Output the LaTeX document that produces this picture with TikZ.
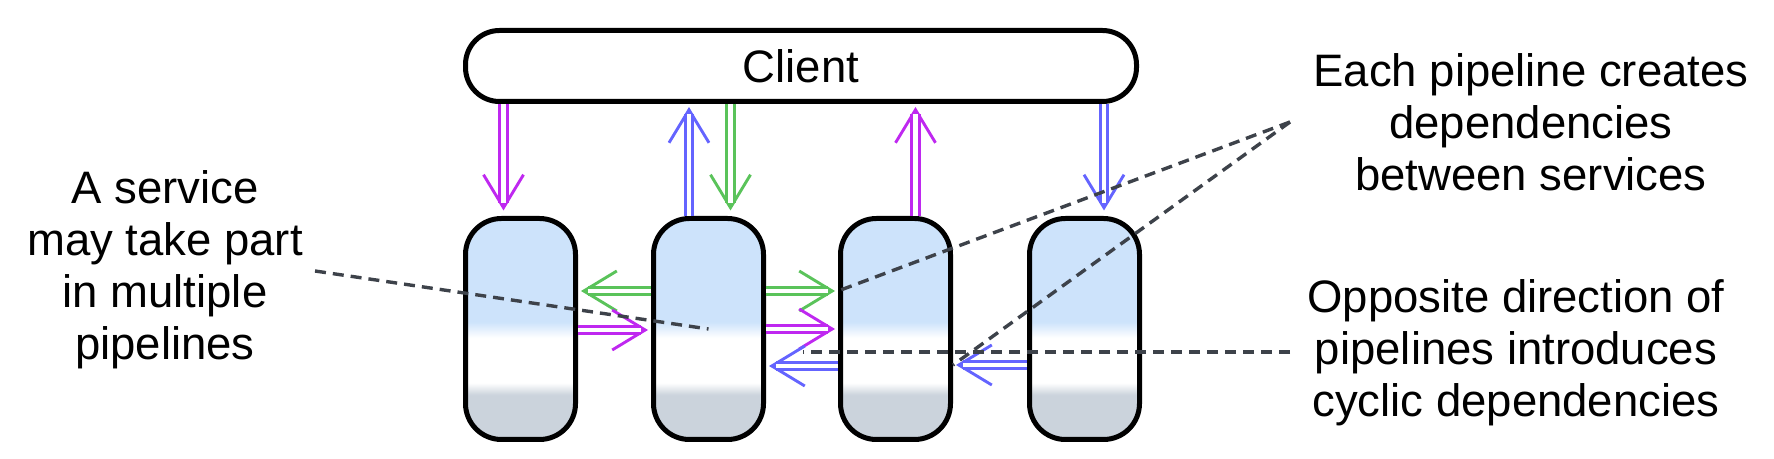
\documentclass[tikz,border=0pt]{standalone}
\usepackage{fontspec}
\setmainfont{Liberation Sans}
\usetikzlibrary{arrows.meta,calc}
\definecolor{pk}{HTML}{BF28F0}
\definecolor{bl}{HTML}{6464FF}
\definecolor{gr}{HTML}{5AC35A}
\definecolor{hintcol}{HTML}{3D424A}
\definecolor{svcblue}{HTML}{CDE3FB}
\definecolor{svcgrey}{HTML}{CBD3DC}
\pgfdeclareverticalshading{svcshade}{100bp}{color(0bp)=(svcgrey); color(35.1bp)=(svcgrey); color(37.8bp)=(white); color(48bp)=(white); color(51.6bp)=(svcblue); color(100bp)=(svcblue)}
\newcommand\pipearrow[3]{\draw[#1,arrtip] #2 -- #3; \draw[#1,arrbody] #2 -- #3;}
\tikzset{
  svc/.style={draw=black, line width=2.5pt, rounded corners=18pt, minimum width=55pt, minimum height=110.5pt, shade, shading=svcshade, inner sep=0pt},
  clientbox/.style={draw=black, line width=2.5pt, rounded corners=17pt, minimum width=335.5pt, minimum height=35.5pt, fill=white, inner sep=0pt, font=\fontsize{22.75pt}{26pt}\selectfont},
  note/.style={align=center, font=\fontsize{22.75pt}{26pt}\selectfont, inner sep=0pt},
  hint/.style={draw=hintcol, line width=1.7pt, dash pattern=on 5.5pt off 3.5pt},
  arrtip/.style={line width=1.45pt, -{Straight Barb[length=16.5pt,width=20pt]}, shorten >=1.5pt},
  arrbody/.style={line width=1.45pt, double=white, double distance=2.2pt, shorten >=5pt},
}
\begin{document}
\begin{tikzpicture}[x=0.5pt,y=-0.5pt]
\useasboundingbox (0,0) rectangle (1774,459);
% nodes
\node[clientbox] (c) at (801,66) {Client};
\node[svc] (s1) at (520.5,329) {};
\node[svc] (s2) at (708.5,329) {};
\node[svc] (s3) at (895.5,329) {};
\node[svc] (s4) at (1084.5,329) {};
% vertical arrow positions
\coordinate (a1) at ($(s1.north)+(-17,0)$);
\coordinate (a2) at ($(s2.north)+(-19.5,0)$);
\coordinate (a3) at ($(s2.north)+(22,0)$);
\coordinate (a4) at ($(s3.north)+(20,0)$);
\coordinate (a5) at ($(s4.north)+(19.5,0)$);
\pipearrow{draw=pk}{(a1 |- c.south)}{($(a1)+(0,-2.5)$)}
\pipearrow{draw=bl}{(a2)}{(a2 |- c.south)}
\pipearrow{draw=gr}{(a3 |- c.south)}{($(a3)+(0,-2.5)$)}
\pipearrow{draw=pk}{(a4)}{(a4 |- c.south)}
\pipearrow{draw=bl}{(a5 |- c.south)}{($(a5)+(0,-2.5)$)}
% horizontal arrows
\pipearrow{draw=gr}{($(s2.west)+(0,-38)$)}{($(s1.east)+(0,-38)$)}
\pipearrow{draw=pk}{($(s1.east)+(0,1)$)}{($(s2.west)+(0,1)$)}
\pipearrow{draw=gr}{($(s2.east)+(0,-38)$)}{($(s3.west)+(0,-38)$)}
\pipearrow{draw=pk}{(s2.east)}{(s3.west)}
\pipearrow{draw=bl}{($(s3.west)+(0,37)$)}{($(s2.east)+(0,37)$)}
\pipearrow{draw=bl}{($(s4.west)+(0,36)$)}{($(s3.east)+(0,36)$)}
% annotation pointers
\coordinate (n1) at (315,271);
\coordinate (n2) at (1290,122);
\coordinate (n3) at (1290,352);
\coordinate (n3e) at (803,352);
\draw[hint] (n1) -- (s2.center);
\draw[hint] (n2) -- ($(s3.west)+(0,-38)$);
\draw[hint] (n2) -- ($(s3.east)+(0,36)$);
\draw[hint] (n3) -- (n3e);
% texts
\node[note] (t1) at (165,269.7) {A service\\may take part\\in multiple\\pipelines};
\node[note] (t2) at (1531,122.5) {Each pipeline creates\\dependencies\\between services};
\node[note] (t3) at (1516,353) {Opposite direction of\\pipelines introduces\\cyclic dependencies};
\end{tikzpicture}
\end{document}
